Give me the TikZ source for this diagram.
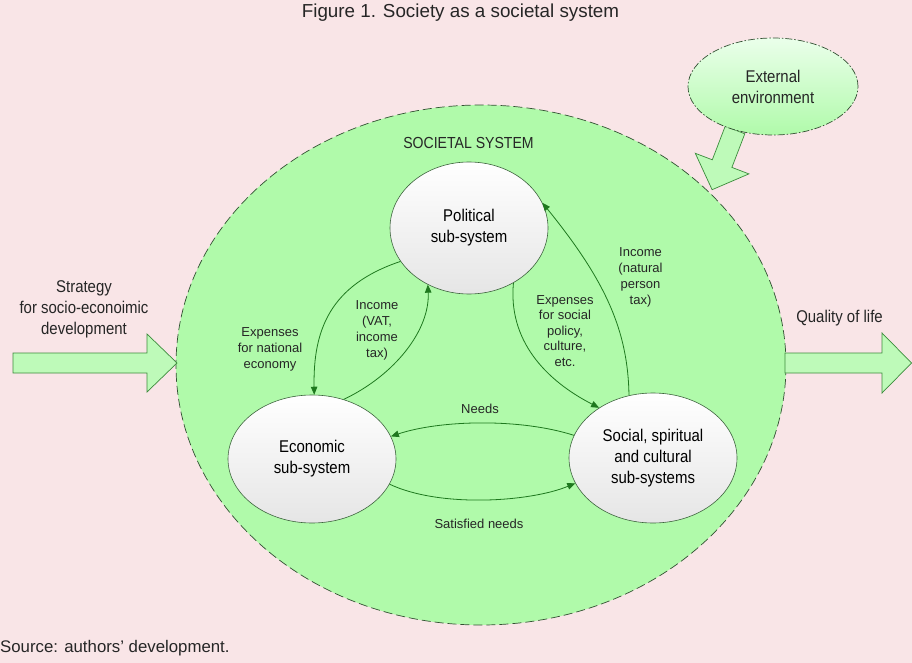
\documentclass[tikz,border=0pt]{standalone}
\usepackage{fontspec}
\setmainfont{Liberation Sans}
\newfontfamily\narrowf[FakeStretch=0.88]{Liberation Sans}
\usetikzlibrary{shapes.geometric,arrows.meta}
\definecolor{bgpink}{RGB}{249,229,231}
\definecolor{sysgreen}{RGB}{176,250,170}
\definecolor{sysedge}{RGB}{50,80,50}
\definecolor{conngreen}{RGB}{30,120,30}
\definecolor{blockfill}{RGB}{190,250,185}
\definecolor{blockedge}{RGB}{60,140,60}
\definecolor{subedge}{RGB}{60,100,60}
\begin{document}
\begin{tikzpicture}[x=1pt,y=-1pt,
  subsys/.style={ellipse, draw=subedge, line width=0.6pt, top color=white, bottom color=black!10,
    inner sep=0pt, align=center, font=\narrowf\fontsize{17}{21}\selectfont},
  conn/.style={draw=conngreen, line width=0.8pt, -{Triangle[length=8pt,width=6.5pt]}},
  blockarrow/.style={draw=blockedge, line width=0.7pt, fill=blockfill, line join=miter},
  small/.style={align=center, font=\fontsize{13}{16}\selectfont, text=black!85},
  big/.style={align=center, font=\narrowf\fontsize{17}{21}\selectfont, text=black!85}]
\useasboundingbox (0,0) rectangle (912,663);
\fill[bgpink] (0,0) rectangle (912,663);

% societal system
\node[ellipse, draw=sysedge, fill=sysgreen, dash pattern=on 9pt off 4pt, line width=0.7pt,
  minimum width=610pt, minimum height=520pt, inner sep=0pt] (sys) at (481,365) {};
\node[big, anchor=base, font=\narrowf\fontsize{16}{20}\selectfont] (systitle) at (468.5,148.3) {SOCIETAL SYSTEM};

% external arrow
\draw[blockarrow] (725.2,126.2) -- (712.3,159.8) -- (695.3,153.3) -- (712.1,189.7)
  -- (748.9,173.9) -- (731.9,167.4) -- (744.8,133.8) -- cycle;
% external environment
\node[ellipse, draw=sysedge, line width=0.7pt, dash pattern=on 7pt off 2pt on 1.5pt off 2pt,
  top color=green!8!white, bottom color=sysgreen, minimum width=170pt, minimum height=97pt,
  inner sep=0pt, big] (ext) at (773,86.5) {External\\environment};

% input / output arrows
\draw[blockarrow] (13,353) -- (147,353) -- (147,334) -- (177,363) -- (147,392) -- (147,373) -- (13,373) -- cycle;
\draw[blockarrow] (785,353) -- (882,353) -- (882,333) -- (911.5,363) -- (882,393) -- (882,373) -- (785,373) -- cycle;
\node[big] (strategy) at (84,309) {Strategy\\for socio-econoimic\\development};
\node[big, anchor=base] (quality) at (839.5,322) {Quality of life};

% subsystems
\node[subsys, minimum width=158pt, minimum height=132pt] (pol) at (469,228) {Political\\sub-system};
\node[subsys, minimum width=168pt, minimum height=128pt] (eco) at (312,459) {Economic\\sub-system};
\node[subsys, minimum width=168pt, minimum height=130pt] (soc) at (653,458) {Social, spiritual\\and cultural\\sub-systems};

% connectors
\draw[conn] (pol.206) .. controls (330,285) and (313,330) .. (eco.88);
\draw[conn] (eco.62) .. controls (395,375) and (430,330) .. (pol.234);
\draw[conn] (pol.309) .. controls (508,340) and (545,380) .. (soc.137);
\draw[conn] (soc.111) .. controls (628,330) and (605,280) .. (pol.19);
\draw[conn] (soc.164) .. controls (520,418) and (440,420) .. (eco.16.5);
\draw[conn] (eco.-18) .. controls (440,508) and (530,502) .. (soc.198);

% labels
\node[small] (l1) at (270,349) {Expenses\\for national\\economy};
\node[small] (l2) at (377,330.6) {Income\\(VAT,\\income\\tax)};
\node[small, font=\fontsize{13}{15.5}\selectfont] (l3) at (565,331) {Expenses\\for social\\policy,\\culture,\\etc.};
\node[small] (l4) at (640.5,277.6) {Income\\(natural\\person\\tax)};
\node[small, anchor=base] (l5) at (480,413) {Needs};
\node[small, anchor=base] (l6) at (479,528) {Satisfied needs};

% title and source
\node[anchor=base, font=\fontsize{18.8}{22}\selectfont, text=black!85] (title) at (460.5,18) {Figure 1. Society as a societal system};
\node[anchor=base west, inner sep=0pt, font=\fontsize{16.8}{20}\selectfont, text=black!85] (source) at (0,652.7) {Source: authors' development.};
\end{tikzpicture}
\end{document}
